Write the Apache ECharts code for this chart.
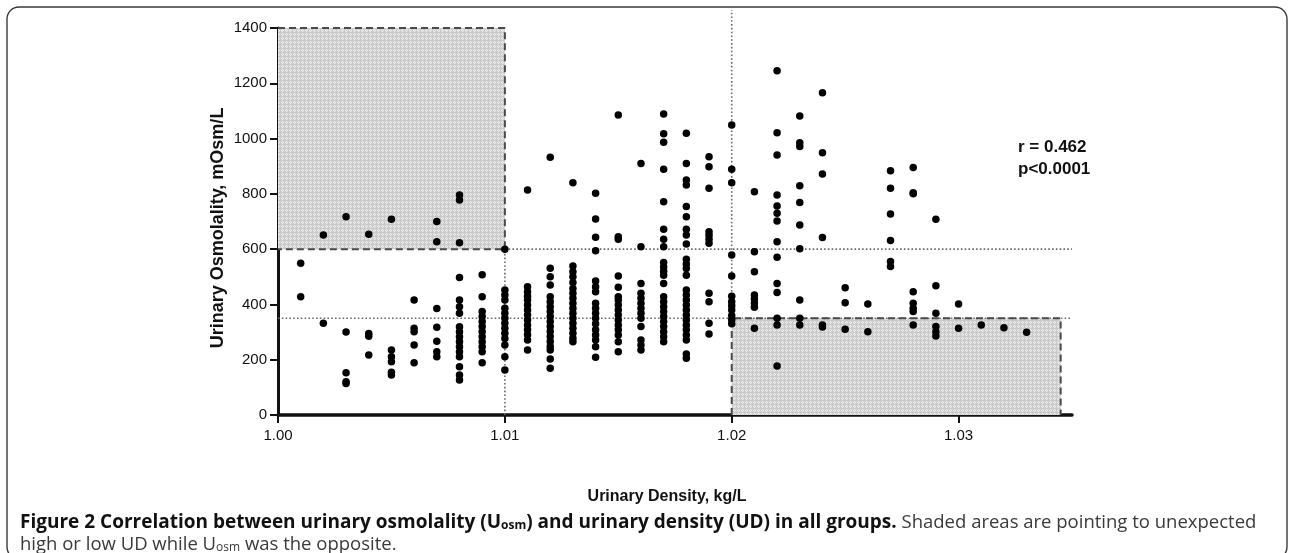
<!DOCTYPE html>
<html>
<head>
<meta charset="utf-8">
<script src="https://cdn.jsdelivr.net/npm/echarts@6/dist/echarts.min.js"></script>
<style>
  html, body { margin: 0; padding: 0; background: #fff; }
  #chart { width: 1289px; height: 553px; }
</style>
</head>
<body>
<div id="chart"></div>
<script>
// ---------- DATA ----------
const xTickLabels = ['1.00', '1.01', '1.02', '1.03'];
const yTickLabels = ['0', '200', '400', '600', '800', '1000', '1200', '1400'];

// urinary density levels (kg/L)
const udLevels = [1.001, 1.002, 1.003, 1.004, 1.005, 1.006, 1.007, 1.008, 1.009, 1.010,
                  1.011, 1.012, 1.013, 1.014, 1.015, 1.016, 1.017, 1.018, 1.019, 1.020,
                  1.021, 1.022, 1.023, 1.024, 1.025, 1.026, 1.027, 1.028, 1.029, 1.030,
                  1.031, 1.032, 1.033];

// urinary osmolality values (mOsm/L) observed at each density level
const uosmAtLevel = [
  [549, 428],
  [651, 332],
  [717, 300, 153, 120, 114],
  [654, 295, 285, 217],
  [708, 235, 211, 193, 155, 145],
  [416, 314, 301, 253, 189],
  [700, 627, 385, 317, 267, 229, 211],
  [796, 778, 623, 497, 416, 392, 368, 319, 301, 283, 265, 247, 229, 211, 175, 145, 127],
  [507, 428, 374, 356, 338, 320, 301, 283, 265, 247, 229, 189],
  [600, 452, 434, 416, 386, 368, 350, 332, 314, 296, 277, 253, 211, 163],
  [814, 464, 446, 430, 416, 398, 380, 362, 344, 326, 308, 290, 271, 235],
  [932, 531, 500, 470, 428, 410, 392, 374, 356, 338, 320, 302, 284, 266, 248, 235, 203, 169],
  [840, 539, 518, 500, 479, 458, 440, 422, 404, 386, 368, 350, 332, 314, 296, 278, 265],
  [802, 709, 643, 594, 485, 464, 446, 404, 386, 368, 350, 330, 308, 289, 271, 247, 209],
  [1085, 645, 636, 503, 462, 428, 416, 398, 380, 362, 344, 326, 308, 289, 265, 229],
  [910, 609, 476, 440, 422, 404, 386, 368, 350, 320, 271, 253, 235],
  [1089, 1017, 987, 889, 771, 672, 636, 609, 552, 535, 520, 506, 476, 428, 410, 392, 374, 356, 338, 320, 301, 283, 265],
  [1019, 910, 850, 832, 754, 717, 672, 651, 619, 563, 546, 530, 506, 452, 434, 416, 398, 380, 362, 344, 326, 308, 289, 271, 221, 205],
  [934, 898, 820, 663, 650, 636, 621, 440, 410, 332, 293],
  [1049, 889, 840, 579, 503, 430, 410, 395, 380, 360, 345, 330],
  [808, 591, 518, 434, 420, 405, 390, 314],
  [1245, 1021, 941, 796, 756, 730, 702, 627, 571, 476, 443, 350, 326, 177],
  [1082, 985, 971, 829, 769, 687, 601, 416, 350, 326],
  [1166, 949, 872, 642, 326, 318],
  [460, 406, 310],
  [402, 301],
  [884, 820, 727, 631, 555, 537],
  [895, 804, 800, 446, 404, 386, 374, 326],
  [708, 468, 368, 320, 301, 286],
  [402, 314],
  [326],
  [316],
  [299]
];

// reference thresholds
const udCutoffs = [1.010, 1.020];
const uosmCutoffs = [350, 600];
// shaded regions [x0, y0, x1, y1]
const shadedRegions = [
  [1.000, 600, 1.010, 1400],
  [1.020, 0, 1.0345, 350]
];
const statLines = ['r = 0.462', 'p<0.0001'];

// ---------- BUILD ----------
const points = [];
udLevels.forEach((ud, i) => uosmAtLevel[i].forEach(v => points.push([ud, v])));

function makePattern() {
  const c = document.createElement('canvas');
  c.width = 4; c.height = 4;
  const g = c.getContext('2d');
  g.fillStyle = '#ebebeb';
  g.fillRect(0, 0, 4, 4);
  g.fillStyle = '#d2d2d2';
  g.fillRect(0, 0, 1, 1); g.fillRect(2, 0, 1, 1);
  g.fillRect(1, 1, 1, 1); g.fillRect(3, 1, 1, 1);
  g.fillRect(0, 2, 1, 1); g.fillRect(2, 2, 1, 1);
  g.fillRect(1, 3, 1, 1); g.fillRect(3, 3, 1, 1);
  g.fillStyle = '#cacaca';
  g.fillRect(0, 0, 4, 1);
  g.fillRect(0, 0, 1, 4);
  return c;
}
const pattern = { image: makePattern(), repeat: 'repeat' };

const dotted = { color: '#6a6a6a', width: 1.6, type: [1.6, 2.2] };
const dashed = { color: '#4a4a4a', width: 2, type: [7, 4] };

function lineSeries(data, style, z) {
  return { type: 'line', data: data, symbol: 'none', silent: true, clip: false,
           lineStyle: style, z: z, animation: false };
}

const xMax = 1.035, xMin = 1.000;
const [c1, c2] = udCutoffs;
const [h1, h2] = uosmCutoffs;
const [r1, r2] = shadedRegions;

const series = [
  { type: 'scatter', data: [], silent: true, z: 1,
    markArea: { silent: true, itemStyle: { color: pattern },
      data: shadedRegions.map(r => [{ coord: [r[0], r[1]] }, { coord: [r[2], r[3]] }]) } },
  lineSeries([[xMin, h1], [xMax, h1]], dotted, 2),
  lineSeries([[c1, h2], [xMax, h2]], dotted, 2),
  lineSeries([[c1, 0], [c1, h2]], dotted, 2),
  lineSeries([[c2, h1], [c2, 1465]], dotted, 2),
  lineSeries([[r1[0], r1[3]], [r1[2], r1[3]], [r1[2], r1[1]], [r1[0], r1[1]]], dashed, 3),
  lineSeries([[r2[0], r2[1]], [r2[0], r2[3]], [r2[2], r2[3]], [r2[2], r2[1]]], dashed, 3),
  { type: 'scatter', data: points, symbol: 'circle', symbolSize: 7.5,
    itemStyle: { color: '#000', opacity: 1 }, z: 5, animation: false }
];

const chart = echarts.init(document.getElementById('chart'), null, { renderer: 'canvas' });
chart.setOption({
  animation: false,
  backgroundColor: '#fff',
  grid: { left: 278, right: 217, top: 28, bottom: 138, containLabel: false },
  xAxis: {
    type: 'value', min: xMin, max: xMax, interval: 0.01,
    axisLine: { show: true, onZero: false, lineStyle: { color: '#111', width: 3.5 } },
    axisTick: { show: true, length: 8, lineStyle: { color: '#111', width: 2 } },
    axisLabel: { color: '#111', fontSize: 15, fontFamily: 'Liberation Sans', margin: 13,
      showMaxLabel: false,
      formatter: v => { const i = Math.round((v - 1) * 100); return xTickLabels[i] || ''; } },
    splitLine: { show: false }
  },
  yAxis: {
    type: 'value', min: 0, max: 1400, interval: 200,
    axisLine: { show: true, lineStyle: { color: '#111', width: 3 } },
    axisTick: { show: true, length: 8, lineStyle: { color: '#111', width: 2 } },
    axisLabel: { color: '#111', fontSize: 15, fontFamily: 'Liberation Sans', margin: 11,
      formatter: v => yTickLabels[Math.round(v / 200)] },
    splitLine: { show: false }
  },
  series: series,
  graphic: [
    { type: 'rect', silent: true, z: 100,
      shape: { x: 7, y: 7, width: 1280, height: 552, r: 12 },
      style: { fill: 'none', stroke: '#3a3a3a', lineWidth: 1.4 } },
    { type: 'text', silent: true, x: 218, y: 228, rotation: Math.PI / 2,
      style: { text: 'Urinary Osmolality, mOsm/L', fill: '#111', font: 'bold 18px "Liberation Sans"',
               align: 'center', verticalAlign: 'middle' } },
    { type: 'text', silent: true, x: 667, y: 497,
      style: { text: 'Urinary Density, kg/L', fill: '#111', font: 'bold 16px "Liberation Sans"',
               align: 'center', verticalAlign: 'middle' } },
    { type: 'text', silent: true, x: 1018, y: 147,
      style: { text: statLines[0], fill: '#111', font: 'bold 17px "Liberation Sans"',
               align: 'left', verticalAlign: 'middle' } },
    { type: 'text', silent: true, x: 1018, y: 169,
      style: { text: statLines[1], fill: '#111', font: 'bold 17px "Liberation Sans"',
               align: 'left', verticalAlign: 'middle' } },
    { type: 'text', silent: true, x: 20, y: 508,
      style: {
        text: '{b|Figure 2 Correlation between urinary osmolality (U}{bs|osm}{b|) and urinary density (UD) in all groups.}{n| Shaded areas are pointing to unexpected}',
        rich: {
          b: { fontFamily: 'Open Sans', fontWeight: 'bold', fontSize: 19, fill: '#111', lineHeight: 24, verticalAlign: 'bottom' },
          bs: { fontFamily: 'Open Sans', fontWeight: 'bold', fontSize: 12, fill: '#111', lineHeight: 18, verticalAlign: 'bottom' },
          n: { fontFamily: 'Open Sans', fontSize: 18.5, fill: '#3a3a3a', lineHeight: 24, verticalAlign: 'bottom' }
        }
      } },
    { type: 'text', silent: true, x: 20, y: 530,
      style: {
        text: '{n|high or low UD while U}{s|osm}{n| was the opposite.}',
        rich: {
          n: { fontFamily: 'Open Sans', fontSize: 18.5, fill: '#3a3a3a', lineHeight: 24, verticalAlign: 'bottom' },
          s: { fontFamily: 'Open Sans', fontSize: 12, fill: '#3a3a3a', lineHeight: 18, verticalAlign: 'bottom' }
        }
      } }
  ]
});
</script>
</body>
</html>
